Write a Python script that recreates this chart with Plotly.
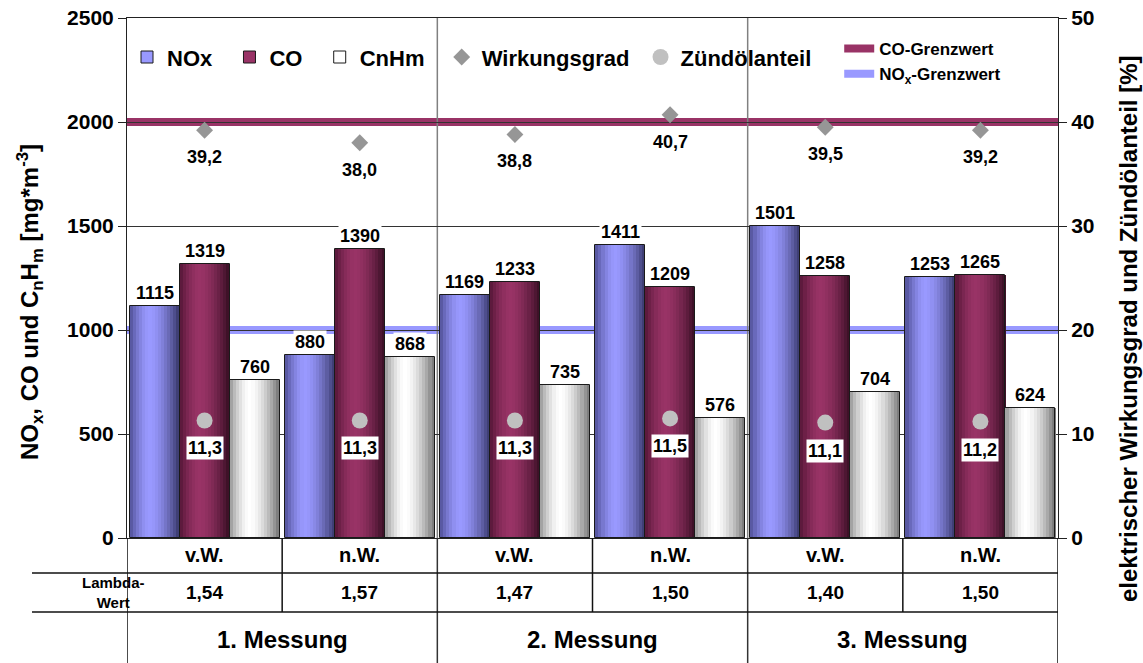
import plotly.graph_objects as go

# ---------------- data ----------------
categories = ["v.W.", "n.W.", "v.W.", "n.W.", "v.W.", "n.W."]
messungen = ["1. Messung", "2. Messung", "3. Messung"]
nox = [1115, 880, 1169, 1411, 1501, 1253]
co = [1319, 1390, 1233, 1209, 1258, 1265]
cnhm = [760, 868, 735, 576, 704, 624]
wirkungsgrad = [39.2, 38.0, 38.8, 40.7, 39.5, 39.2]
zuendoel = [11.3, 11.3, 11.3, 11.5, 11.1, 11.2]
lambda_wert = [1.54, 1.57, 1.47, 1.50, 1.40, 1.50]
co_grenzwert = 2000
nox_grenzwert = 1000
y_left_range = [0, 2500]
y_right_range = [0, 50]

FONT = "Arial, Liberation Sans, sans-serif"
NB = "\u00a0"
x = list(range(len(categories)))
x_range = [-0.5, len(categories) - 0.5]

series = [
    ("NOx", nox, (153, 153, 255), (80, 80, 150), (55, 55, 105)),
    ("CO", co, (153, 51, 102), (85, 22, 55), (55, 14, 35)),
    ("CnHm", cnhm, (255, 255, 255), (150, 150, 150), (115, 115, 115)),
]

bar_w = 0.322
start = -1.5 * bar_w
N = 16
peak = 0.4


def mix(a, b, s):
    return tuple(int(round(a[i] + (b[i] - a[i]) * s)) for i in range(3))


def shade(t, c, l, r):
    if t < peak:
        s = ((peak - t) / peak) ** 1.6
        return mix(c, l, s)
    s = ((t - peak) / (1 - peak)) ** 1.6
    return mix(c, r, s)


fig = go.Figure()

for j, (name, vals, c, l, r) in enumerate(series):
    off0 = start + j * bar_w
    for k in range(N):
        t = (k + 0.5) / N
        col = "rgb(%d,%d,%d)" % shade(t, c, l, r)
        fig.add_trace(go.Bar(
            x=x, y=vals, offset=off0 + k * bar_w / N, width=bar_w / N * 1.05,
            marker=dict(color=col, line=dict(width=0)),
            showlegend=False, hoverinfo="skip", yaxis="y",
        ))
    fig.add_trace(go.Bar(
        x=x, y=vals, offset=off0, width=bar_w,
        marker=dict(color="rgba(0,0,0,0)", line=dict(color="#1a1a1a", width=1)),
        showlegend=False, hoverinfo="skip", yaxis="y",
    ))

# legend entries for bars
for name, vals, c, l, r in series:
    fig.add_trace(go.Bar(
        x=[None], y=[None], name=name + NB * 2,
        marker=dict(color="rgb(%d,%d,%d)" % c, line=dict(color="#1a1a1a", width=1)),
        legend="legend", yaxis="y",
    ))

fig.add_trace(go.Scatter(
    x=x, y=wirkungsgrad, mode="markers", name="Wirkungsgrad" + NB, yaxis="y2",
    marker=dict(symbol="diamond", size=13, color="#969696"), legend="legend",
))
fig.add_trace(go.Scatter(
    x=x, y=zuendoel, mode="markers", name="Zündölanteil", yaxis="y2",
    marker=dict(symbol="circle", size=16, color="#c0c0c0"), legend="legend",
))

ann = []
lab_font = dict(family=FONT, size=18, color="black", weight="bold")
for j, (name, vals, c, l, r) in enumerate(series):
    for i, v in enumerate(vals):
        ann.append(dict(
            x=i + start + (j + 0.5) * bar_w, y=v, xref="x", yref="y",
            text=str(v), showarrow=False, yanchor="bottom", yshift=1,
            bgcolor="white", borderpad=1, font=lab_font,
        ))
for i, v in enumerate(wirkungsgrad):
    ann.append(dict(
        x=i, y=v, xref="x", yref="y2", text=("%.1f" % v).replace(".", ","),
        showarrow=False, yanchor="top", yshift=-15, font=lab_font,
    ))
for i, v in enumerate(zuendoel):
    ann.append(dict(
        x=i, y=v, xref="x", yref="y2", text=("%.1f" % v).replace(".", ","),
        showarrow=False, yanchor="top", yshift=-16, bgcolor="white",
        borderpad=1, font=lab_font,
    ))

# table text
PH = 520.0
PW = 931.0
for i, cat in enumerate(categories):
    ann.append(dict(x=i, y=-17 / PH, xref="x", yref="paper", text=cat,
                    showarrow=False, yanchor="middle",
                    font=dict(family=FONT, size=20, color="black", weight="bold")))
    ann.append(dict(x=i, y=-54 / PH, xref="x", yref="paper",
                    text=("%.2f" % lambda_wert[i]).replace(".", ","),
                    showarrow=False, yanchor="middle",
                    font=dict(family=FONT, size=19, color="black", weight="bold")))
for g, m in enumerate(messungen):
    ann.append(dict(x=2 * g + 0.5, y=-101 / PH, xref="x", yref="paper", text=m,
                    showarrow=False, yanchor="middle",
                    font=dict(family=FONT, size=24, color="black", weight="bold")))
ann.append(dict(x=-47 / PW, y=-54 / PH, xref="paper", yref="paper",
                text="Lambda-<br>Wert", showarrow=False, yanchor="middle",
                font=dict(family=FONT, size=15, color="black", weight="bold")))

# axis titles (as rotated annotations)
ann.append(dict(x=-97 / PW, y=1 - (302 - 18) / PH, xref="paper", yref="paper",
                text="NO<sub>x</sub>, CO und C<sub>n</sub>H<sub>m</sub> [mg*m<sup>-3</sup>]",
                textangle=-90, showarrow=False, xanchor="center", yanchor="middle",
                font=dict(family=FONT, size=24, color="black", weight="bold")))
ann.append(dict(x=1 + (1128 - 1058) / PW, y=1 - (329 - 18) / PH, xref="paper", yref="paper",
                text="elektrischer Wirkungsgrad und Zündölanteil [%]",
                textangle=-90, showarrow=False, xanchor="center", yanchor="middle",
                font=dict(family=FONT, size=24, color="black", weight="bold")))

shapes = []
# limit lines (legend2)
shapes.append(dict(type="line", xref="paper", x0=0, x1=1, yref="y",
                   y0=co_grenzwert, y1=co_grenzwert, layer="between",
                   line=dict(color="#993366", width=8), showlegend=True,
                   legend="legend2", name="CO-Grenzwert"))
shapes.append(dict(type="line", xref="paper", x0=0, x1=1, yref="y",
                   y0=nox_grenzwert, y1=nox_grenzwert, layer="between",
                   line=dict(color="#9999ff", width=8), showlegend=True,
                   legend="legend2", name="NO<sub>x</sub>-Grenzwert"))
# group separators
for b in (1.5, 3.5):
    shapes.append(dict(type="line", xref="x", x0=b, x1=b, yref="paper",
                       y0=0, y1=1, layer="between",
                       line=dict(color="#808080", width=1.5)))
    shapes.append(dict(type="line", xref="x", x0=b, x1=b, yref="paper",
                       y0=-0.26, y1=0, line=dict(color="#333", width=1.5)))
for b in (0.5, 2.5, 4.5):
    shapes.append(dict(type="line", xref="x", x0=b, x1=b, yref="paper",
                       y0=-74 / PH, y1=0, line=dict(color="#111", width=1.5)))
for b in x_range:
    shapes.append(dict(type="line", xref="x", x0=b, x1=b, yref="paper",
                       y0=-0.26, y1=0, line=dict(color="#111", width=1.5)))
for yy in (-35 / PH, -74 / PH):
    shapes.append(dict(type="line", xref="paper", x0=-95 / PW, x1=1,
                       yref="paper", y0=yy, y1=yy,
                       line=dict(color="#111", width=1.5)))

tick_font = dict(family=FONT, size=21, color="black", weight="bold")

fig.update_layout(
    width=1143, height=663,
    margin=dict(l=127, r=85, t=18, b=125, autoexpand=False),
    paper_bgcolor="white", plot_bgcolor="white",
    barmode="overlay", bargap=0,
    font=dict(family=FONT, color="black", weight="bold"),
    xaxis=dict(range=x_range, tickvals=x, showticklabels=False, ticks="",
               showgrid=False, zeroline=False, showline=True, mirror=True,
               linecolor="#222", linewidth=1, automargin=False),
    yaxis=dict(range=y_left_range, dtick=500, ticks="outside", ticklen=8,
               tickcolor="#222", showline=True, linecolor="#222", linewidth=1,
               showgrid=True, gridcolor="#333", gridwidth=1, zeroline=False,
               tickfont=tick_font, automargin=False),
    yaxis2=dict(range=y_right_range, dtick=10, overlaying="y", side="right",
                ticks="outside", ticklen=8, tickcolor="#222", showline=True,
                linecolor="#222", linewidth=1, showgrid=False, zeroline=False,
                tickfont=tick_font, automargin=False),
    legend=dict(orientation="h", x=0.0, y=0.965, xanchor="left", yanchor="top",
                bgcolor="rgba(0,0,0,0)",
                font=dict(family=FONT, size=22, color="black", weight="bold"),
                traceorder="normal"),
    legend2=dict(orientation="v", x=0.765, y=0.975, xanchor="left", yanchor="top",
                 bgcolor="rgba(0,0,0,0)", tracegroupgap=0,
                 font=dict(family=FONT, size=17, color="black", weight="bold")),
    annotations=ann,
    shapes=shapes,
)

fig.write_html("out.html", config={"displayModeBar": False},
               post_script="document.body.style.margin='0px';")
